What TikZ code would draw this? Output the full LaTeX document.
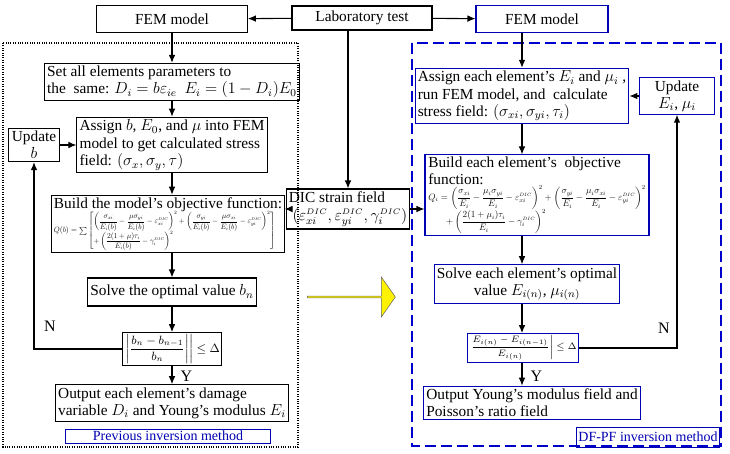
\documentclass[tikz,border=0pt]{standalone}
\usepackage{amsmath}
\usepackage{graphicx}
\usepackage{fontspec}
\setmainfont{Liberation Serif}
\usetikzlibrary{positioning,arrows.meta,shapes.arrows}
\newcommand\dic{{\scriptscriptstyle DIC}}
\tikzset{
  box/.style={draw, thick, inner sep=2pt, align=left, font=\fontsize{11.5}{13}\selectfont},
  bbox/.style={box, draw=blue!70!black},
  arr/.style={-{Latex[length=6pt,width=5pt]}, thick},
  lbl/.style={font=\fontsize{12}{13}\selectfont}
}
\begin{document}
\begin{tikzpicture}[x=0.75pt,y=-0.75pt]
\useasboundingbox (0,0) rectangle (730,453);

% regions
\draw[densely dotted, thick] (3,43) rectangle (298,447);
\draw[blue!80!black, dashed, line width=1.4pt, dash pattern=on 8pt off 4pt] (412,43) rectangle (721,446);

% top row
\node[box, minimum width=113pt, minimum height=20pt, align=center] (fem1) at (172,19) {FEM model};
\node[box, minimum width=105pt, minimum height=18pt, align=center] (lab) at (362,18) {Laboratory test};
\node[bbox, minimum width=99pt, minimum height=20pt, align=center] (fem2) at (542,19) {FEM model};

% previous method
\node[box, minimum width=141pt] (set) at (172,82) {Set all elements parameters to\\the\ \ same: $D_i=b\varepsilon_{ie}\enspace E_i=(1-D_i)E_0$};
\node[box, minimum width=141pt] (assign) at (172,145) {Assign $b$, $E_0$, and $\mu$ into FEM\\model to get calculated stress\\field: $\left(\sigma_x,\sigma_y,\tau\right)$};
\node[box, align=center, minimum width=38pt] (upd) at (34,145) {Update\\$b$};
\node[box, minimum width=171pt, inner sep=1.5pt] (build) at (168,224) {Build the model's objective function:\\[-1pt]
  \resizebox{166pt}{!}{$Q(b)=\sum\left[\begin{array}{@{}l@{}}
  \left(\dfrac{\sigma_{xi}}{E_i(b)}-\dfrac{\mu\sigma_{yi}}{E_i(b)}-\varepsilon_{xi}^{\dic}\right)^2+\left(\dfrac{\sigma_{yi}}{E_i(b)}-\dfrac{\mu\sigma_{xi}}{E_i(b)}-\varepsilon_{yi}^{\dic}\right)^2\\[6pt]
  +\left(\dfrac{2(1+\mu)\tau_i}{E_i(b)}-\gamma_i^{\dic}\right)^2\end{array}\right]$}};
\node[box, align=center, minimum width=117pt, minimum height=21pt] (solve) at (172,292) {Solve the optimal value $b_n$};
\node[box, inner sep=1.5pt, font=\fontsize{9}{10}\selectfont] (cond) at (172,349) {$\left.\left|\dfrac{b_n-b_{n-1}}{b_n}\right|\right|\le\Delta$};
\node[box, minimum width=164pt] (out) at (172,403) {Output each element's damage\\variable $D_i$ and Young's modulus $E_i$};
\node[box, draw=blue!70!black, thin, font=\fontsize{10.5}{12}\selectfont, text=blue!70!black, minimum width=154pt, align=center, inner sep=1.5pt] (prev) at (168,436) {Previous inversion method};
\node[lbl] (n1) at (50,326) {N};
\node[lbl, anchor=west] (y1) at (176,376) {Y};

% DIC
\node[box, minimum height=30pt, inner sep=1.5pt] (dic) at (348,209) {DIC strain field\\\ $(\varepsilon_{xi}^{\dic},\varepsilon_{yi}^{\dic},\gamma_i^{\dic})$};

% yellow arrow
\node[single arrow, draw=black!60, fill=yellow, minimum height=66pt, minimum width=30pt, single arrow head extend=4pt, single arrow tip angle=110, inner sep=0pt] (yel) at (351,297) {};

% DF-PF method
\node[bbox, minimum width=144pt] (assign2) at (522,96) {Assign each element's $E_i$ and $\mu_i$ ,\\run FEM model, and\ \ calculate\\stress field: $\left(\sigma_{xi},\sigma_{yi},\tau_i\right)$};
\node[bbox, align=center, minimum width=56pt] (upd2) at (677,96) {Update\\$E_i$,\ $\mu_i$};
\node[bbox, minimum width=168pt, inner sep=1.5pt] (build2) at (537,195) {Build each element's\ \ objective\\function:\\[-1pt]
  \resizebox{163pt}{!}{$\begin{array}{@{}l@{}}Q_i=\left(\dfrac{\sigma_{xi}}{E_i}-\dfrac{\mu_i\sigma_{yi}}{E_i}-\varepsilon_{xi}^{\dic}\right)^2+\left(\dfrac{\sigma_{yi}}{E_i}-\dfrac{\mu_i\sigma_{xi}}{E_i}-\varepsilon_{yi}^{\dic}\right)^2\\[6pt]
  \qquad+\left(\dfrac{2(1+\mu_i)\tau_i}{E_i}-\gamma_i^{\dic}\right)^2\end{array}$}};
\node[bbox, align=center, minimum width=139pt, minimum height=26pt] (solve2) at (527,284) {Solve each element's optimal\\value $E_{i(n)}$,\ $\mu_{i(n)}$};
\node[bbox, inner sep=1.5pt, font=\fontsize{7.5}{9}\selectfont] (cond2) at (523,348) {$\left.\dfrac{E_{i(n)}-E_{i(n-1)}}{E_{i(n)}}\right|\le\Delta$};
\node[bbox, minimum width=162pt] (out2) at (532,403) {Output Young's modulus field and\\Poisson's ratio field};
\node[bbox, thin, font=\fontsize{10.5}{12}\selectfont, text=blue!70!black, minimum width=97pt, minimum height=15pt, align=center, inner sep=1.5pt] (dfpf) at (648,437) {DF-PF inversion method};
\node[lbl] (n2) at (664,328) {N};
\node[lbl, anchor=west] (y2) at (526,376) {Y};

% connectors
\draw[arr] (lab) -- (fem1);
\draw[arr] (lab) -- (fem2);
\draw[arr] (lab.south -| dic) -- (dic);
\draw[arr] (fem1) -- (set);
\draw[arr] (fem2.south -| assign2) -- (assign2);
\draw[arr] (set) -- (assign);
\draw[arr] (upd) -- (assign);
\draw[arr] (assign) -- (build.north -| assign);
\draw[arr] (build.south -| solve) -- (solve);
\draw[arr] (solve) -- (cond);
\draw[arr] (cond) -- (out);
\draw[arr] (cond.west) -| (upd.south);
\draw[arr] (dic) -- (build.east |- dic);
\draw[arr] (dic) -- (build2.west |- dic);
\draw[arr] (assign2) -- (build2.north -| assign2);
\draw[arr] (upd2) -- (assign2);
\draw[arr] (build2.south -| assign2) -- (solve2.north -| assign2);
\draw[arr] (solve2.south -| assign2) -- (cond2.north -| assign2);
\draw[arr] (cond2.south -| assign2) -- (out2.north -| assign2);
\draw[arr] (cond2.east) -| (upd2.south);
\end{tikzpicture}
\end{document}
